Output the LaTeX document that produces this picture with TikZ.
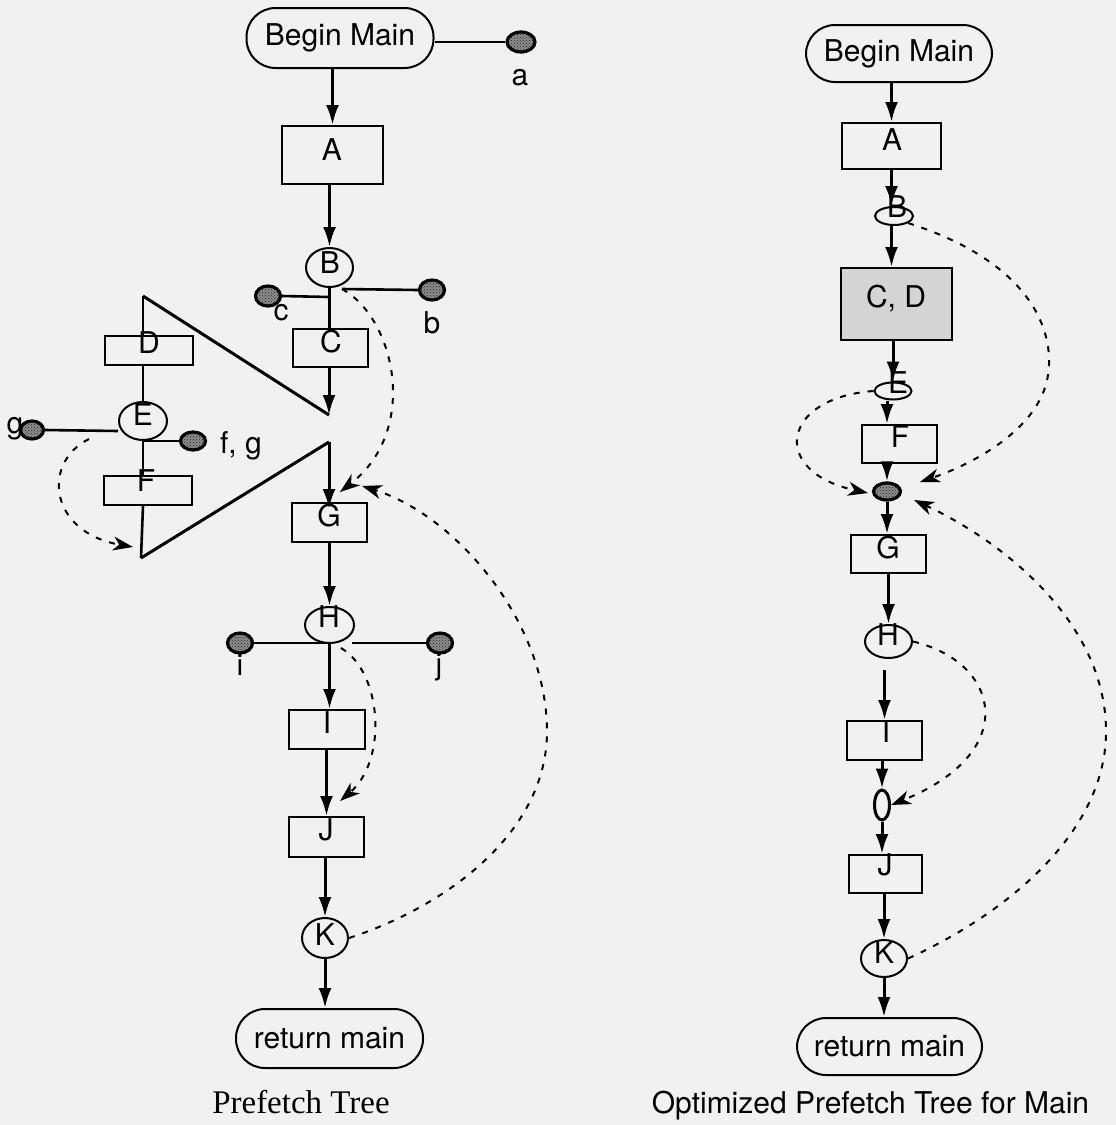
\documentclass[tikz,border=0pt]{standalone}
\usepackage{fontspec}
\setmainfont{TeX Gyre Heros}
\newfontfamily\capserif{Liberation Serif}
\usetikzlibrary{arrows.meta,shapes.geometric,patterns}

\definecolor{paper}{RGB}{241,241,241}

\tikzset{
  lbl/.style={font=\fontsize{30}{30}\selectfont, inner sep=0pt},
  blk/.style={draw, line width=2pt, inner sep=0pt},
  brn/.style={draw, ellipse, line width=2pt, inner sep=0pt},
  term/.style={draw, line width=2pt, rounded corners=29pt, inner sep=0pt,
               font=\fontsize{30}{30}\selectfont},
  dotnode/.style={draw, ellipse, line width=3.2pt, inner sep=0pt,
                  preaction={fill=black!45}, pattern=crosshatch dots, pattern color=black!85},
  flow/.style={line width=3pt, -{Latex[length=20pt,width=13pt]}},
  wire/.style={line width=2.6pt},
  fb/.style={line width=2pt, dash pattern=on 6pt off 8pt,
             -{Stealth[length=20pt,width=14pt,inset=6pt]}},
}

\begin{document}
\begin{tikzpicture}[x=1pt,y=-1pt]
\fill[paper] (0,0) rectangle (1116,1125);
\useasboundingbox (0,0) rectangle (1116,1125);

% ---------------- Prefetch tree ----------------
\node[term, minimum width=187pt, minimum height=60pt] (LBeg) at (340,38) {Begin Main};
\node[blk, minimum width=101pt, minimum height=58pt] (LA) at (332.5,155) {};
\node[lbl] (LAt) at (332,150) {A};
\node[brn, minimum width=47pt, minimum height=39pt] (LB) at (329.5,267.5) {};
\node[lbl] (LBt) at (330,263) {B};
\node[blk, minimum width=75pt, minimum height=38pt] (LC) at (330.5,348) {};
\node[lbl] (LCt) at (331,342) {C};
\node[blk, minimum width=88pt, minimum height=29pt] (LD) at (149,350.5) {};
\node[lbl] (LDt) at (149,343) {D};
\node[brn, minimum width=48pt, minimum height=38pt] (LE) at (143,421) {};
\node[lbl] (LEt) at (143,415) {E};
\node[blk, minimum width=88pt, minimum height=29pt] (LF) at (148,490.5) {};
\node[lbl] (LFt) at (146,481) {F};
\node[blk, minimum width=75pt, minimum height=39pt] (LG) at (329.5,522.5) {};
\node[lbl] (LGt) at (329,516) {G};
\node[brn, minimum width=49pt, minimum height=36pt] (LH) at (329.5,625) {};
\node[lbl] (LHt) at (329,617) {H};
\node[blk, minimum width=76pt, minimum height=39pt] (LI) at (327,729.5) {};
\node[lbl] (LIt) at (327,723) {I};
\node[blk, minimum width=75pt, minimum height=40pt] (LJ) at (326.5,837) {};
\node[lbl] (LJt) at (326,830) {J};
\node[brn, minimum width=46pt, minimum height=40pt] (LK) at (325,938) {};
\node[lbl] (LKt) at (325,935) {K};
\node[term, minimum width=187pt, minimum height=59pt] (LRet) at (329.5,1038.5) {return main};
\node[font=\capserif\fontsize{33}{33}\selectfont, inner sep=0pt] (LCap) at (301,1102) {Prefetch Tree};

% prefetch dots and their labels
\node[dotnode, minimum width=28pt, minimum height=20pt] (La) at (521,42) {};
\node[dotnode, minimum width=25pt, minimum height=20pt] (Lb) at (432,290) {};
\node[dotnode, minimum width=25pt, minimum height=20pt] (Lc) at (268,296) {};
\node[dotnode, minimum width=23pt, minimum height=18pt] (Lg) at (32,430) {};
\node[dotnode, minimum width=25pt, minimum height=18pt] (Lfg) at (193,441) {};
\node[dotnode, minimum width=25pt, minimum height=20pt] (Li) at (240,643) {};
\node[dotnode, minimum width=25pt, minimum height=20pt] (Lj) at (440,643) {};
\node[lbl] (Lat) at (520,78) {a};
\node[lbl] (Lbt) at (432,323) {b};
\node[lbl] (Lct) at (281,313) {c};
\node[lbl] (Lgt) at (15,429) {g};
\node[lbl] (Lfgt) at (241,446) {f, g};
\node[lbl] (Lit) at (240,665) {i};
\node[lbl] (Ljt) at (439,667) {j};

% branch points and fork corners
\coordinate (LBc) at (329,297);
\coordinate (LBb) at (342,289);
\coordinate (LHi) at (329,643);
\coordinate (LHj) at (352,643);
\coordinate (LEg) at (118,431);
\coordinate (LEf) at (143,441);
\coordinate (LtTop) at (143,296);
\coordinate (LtBot) at (141,558);
\coordinate (LtR1) at (329,415);
\coordinate (LtR2) at (329,442);

% solid flow
\draw[flow] (LBeg.south -| LA) -- (LA.north);
\draw[flow] (LA.south -| LB) -- (LB.north);
\draw[wire] (LB.south) -- (LC.north -| LB.south);
\draw[flow] (LC.south -| LtR1) -- (LtR1);
\draw[line width=3pt, line join=round] (LtTop) -- (LtR1);
\draw[line width=3pt, line join=round] (LtBot) -- (LtR2);
\draw[flow] (LtR2) -- ([yshift=-7pt]LG.north -| LtR2);
\draw[wire] (LtTop) -- (LD.north -| LtTop);
\draw[wire] (LD.south -| LtTop) -- (LE.north);
\draw[wire] (LE.south) -- (LF.north -| LE.south);
\draw[wire] (LF.south -| LE.south) -- (LtBot);
\draw[flow] (LG.south -| LH) -- (LH.north);
\draw[flow] (LH.south) -- (LI.north -| LH.south);
\draw[flow] (LI.south -| LJ) -- (LJ.north);
\draw[flow] (LJ.south -| LK) -- (LK.north);
\draw[flow] (LK.south) -- (LRet.north -| LK.south);

% branch wires to the prefetch dots
\draw[wire] (La.west) -- (La.west -| LBeg.east);
\draw[wire] (LBc) -- (Lc.east);
\draw[wire] (LBb) -- (Lb.west);
\draw[wire] (LEg) -- (Lg.east);
\draw[wire] (LEf) -- (Lfg.west);
\draw[wire] (LHi) -- (Li.east);
\draw[wire] (LHj) -- (Lj.west);

% prefetch links (dashed)
\draw[fb] (LBb) .. controls (395,318) and (420,430) .. (340,492);
\draw[fb] (89,439) .. controls (42,462) and (48,532) .. (133,547);
\draw[fb] (LK.east) .. controls (450,905) and (548,830) .. (547,730)
          .. controls (546,620) and (455,515) .. (362,486);
\draw[fb] (341,648) .. controls (382,672) and (388,760) .. (340,801);

% ---------------- Optimized prefetch tree ----------------
\node[term, minimum width=186pt, minimum height=57pt] (RBeg) at (899,53.5) {Begin Main};
\node[blk, minimum width=99pt, minimum height=46pt] (RA) at (891.5,146) {};
\node[lbl] (RAt) at (892,140) {A};
\node[brn, minimum width=38pt, minimum height=18pt] (RB) at (894,216) {};
\node[lbl] (RBt) at (897,207) {B};
\node[blk, minimum width=111pt, minimum height=72pt, fill=black!17] (RCD) at (896.5,304) {};
\node[lbl] (RCDt) at (896,298) {C, D};
\node[brn, minimum width=37pt, minimum height=17pt] (RE) at (893,391) {};
\node[lbl] (REt) at (898,383) {E};
\node[blk, minimum width=75pt, minimum height=38pt] (RF) at (899.5,444) {};
\node[lbl] (RFt) at (900,437) {F};
\node[dotnode, minimum width=27pt, minimum height=17pt] (Rdot) at (887,491.5) {};
\node[blk, minimum width=75pt, minimum height=38pt] (RG) at (888.5,554) {};
\node[lbl] (RGt) at (888,548) {G};
\node[brn, minimum width=47pt, minimum height=33pt] (RH) at (888.5,641.5) {};
\node[lbl] (RHt) at (888,635) {H};
\node[blk, minimum width=75pt, minimum height=39pt] (RI) at (884.5,740.5) {};
\node[lbl] (RIt) at (886,732) {I};
\node[brn, line width=3pt, minimum width=15pt, minimum height=30pt] (Rm) at (882,805) {};
\node[blk, minimum width=73pt, minimum height=38pt] (RJ) at (885.5,874) {};
\node[lbl] (RJt) at (885,865) {J};
\node[brn, minimum width=46pt, minimum height=37pt] (RK) at (884,958.5) {};
\node[lbl] (RKt) at (884,953) {K};
\node[term, minimum width=185pt, minimum height=57pt] (RRet) at (889.5,1046.5) {return main};
\node[font=\fontsize{30}{30}\selectfont, inner sep=0pt] (RCap) at (870.5,1106) {Optimized Prefetch Tree for Main};

% solid flow
\draw[flow] (RBeg.south -| RA) -- (RA.north);
\draw[flow] (RA.south) -- (RB.north -| RA.south);
\draw[flow] (RB.south -| RA.south) -- (RCD.north -| RA.south);
\draw[flow] (RCD.south -| RE) -- (RE.north);
\draw[flow] (RE.south -| Rdot) -- (RF.north -| Rdot);
\draw[flow] (RF.south -| Rdot) -- (Rdot.north);
\draw[flow] (Rdot.south) -- (RG.north -| Rdot.south);
\draw[flow] (RG.south -| RH) -- (RH.north);
\draw[flow, shorten <=11pt] (RH.south -| RI.north) -- (RI.north);
\draw[flow] (RI.south -| Rm) -- (Rm.north);
\draw[flow] (Rm.south) -- (RJ.north -| Rm.south);
\draw[flow] (RJ.south -| RK) -- (RK.north);
\draw[flow] (RK.south) -- (RRet.north -| RK.south);

% prefetch links (dashed)
\draw[fb] (RB.south east) .. controls (1030,262) and (1055,330) .. (1048,375)
          .. controls (1040,430) and (970,465) .. (920,482);
\draw[fb] (RE.west) .. controls (780,398) and (770,472) .. (868,493);
\draw[fb] (RK.east) .. controls (1010,912) and (1107,830) .. (1106,730)
          .. controls (1105,620) and (1000,540) .. (914,500);
\draw[fb] (RH.east) .. controls (1000,662) and (1022,752) .. (Rm.east);
\end{tikzpicture}
\end{document}
